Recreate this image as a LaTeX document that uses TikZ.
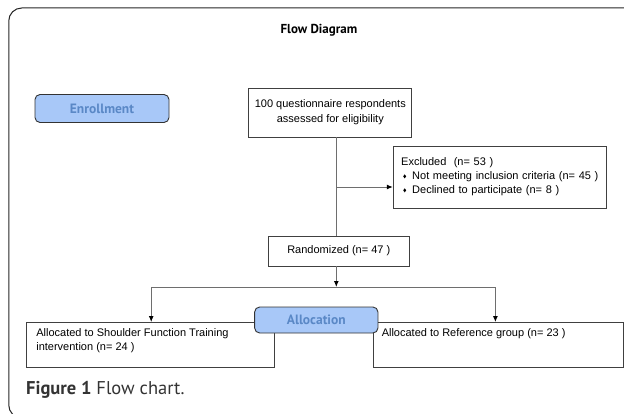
\documentclass[tikz,border=0pt]{standalone}
\usepackage{fontspec}
\setmainfont{Liberation Sans}
\newfontfamily\labelfont{PT Sans}
\usetikzlibrary{arrows.meta}
\definecolor{tagblue}{RGB}{168,200,248}
\definecolor{tagtext}{RGB}{90,136,198}
\definecolor{linegray}{RGB}{110,110,110}
\newcommand{\bulletmark}{\tikz[baseline=-0.6ex]\fill (0pt,0pt) -- (1.5pt,2pt) -- (3pt,0pt) -- (1.5pt,-2pt) -- cycle;}
\begin{document}
\begin{tikzpicture}[x=1pt,y=-1pt,
  flowbox/.style={draw=black!75, fill=white, line width=0.9pt, inner sep=0pt, align=center, font=\fontsize{11}{15}\selectfont},
  tagbox/.style={draw=black!80, fill=tagblue, rounded corners=5pt, line width=0.9pt, text=tagtext, font=\labelfont\bfseries\fontsize{13.5}{15}\selectfont},
  flowline/.style={draw=linegray, line width=0.9pt},
  flowarrow/.style={flowline, -{Latex[length=6pt,width=5pt,color=black]}}]
\useasboundingbox (0,0) rectangle (624,414);
% outer frame
\draw[black!85, line width=1pt, rounded corners=13pt] (60,418) -- (8.75,418) -- (8.75,8) -- (640,8);
% title and stage tags
\node[font=\labelfont\bfseries\fontsize{13}{15}\selectfont] (title) at (319,30) {Flow Diagram};
\node[tagbox, minimum width=134pt, minimum height=28pt] (enroll) at (102,108.5) {Enrollment};
% boxes
\node[flowbox, minimum width=163pt, minimum height=49pt] (screen) at (330.3,112.5) {100 questionnaire respondents\\assessed for eligibility};
\node[flowbox, minimum width=213.6pt, minimum height=62pt, align=left, text width=197.6pt, font=\fontsize{11}{14}\selectfont] (excl) at (500,177) {Excluded\ \ (n= 53 )\\
  \hspace*{2pt}\bulletmark\hspace{6pt}Not meeting inclusion criteria (n= 45 )\\
  \hspace*{2pt}\bulletmark\hspace{6pt}Declined to participate (n= 8 )};
\node[flowbox, minimum width=140.5pt, minimum height=30pt] (rand) at (338.8,251) {Randomized (n= 47 )};
\node[flowbox, inner xsep=10pt, inner ysep=6pt, anchor=north west, font=\fontsize{11}{14}\selectfont] (armsft) at (25.9,322)
  {\parbox[c][33pt][t]{227.9pt}{\raggedright Allocated to Shoulder Function Training\\intervention (n= 24 )}};
\node[flowbox, inner xsep=8pt, inner ysep=6pt, anchor=north west, font=\fontsize{11}{14}\selectfont] (armref) at (373.3,322)
  {\parbox[c][33pt][t]{233.5pt}{\raggedright Allocated to Reference group (n= 23 )}};
% connectors
\coordinate (trunk) at (336.3,0);
\coordinate (xsplit) at (336.3,187);
\coordinate (lsplit) at (151.2,287);
\coordinate (rsplit) at (495.4,287);
\draw[flowline] (screen.south -| trunk) -- (rand.north -| trunk);
\draw[flowarrow] (xsplit) -- (xsplit -| excl.west);
\draw[flowarrow] (rand.south -| trunk) -- (trunk |- lsplit);
\draw[flowline] (lsplit) -- (rsplit);
\draw[flowarrow] (lsplit) -- (lsplit |- armsft.north);
\draw[flowarrow] (rsplit) -- (rsplit |- armref.north);
\node[tagbox, minimum width=123.3pt, minimum height=26pt] (alloc) at (316.3,320) {Allocation};
% caption
\node[anchor=base west, inner sep=0pt, text=black!80, font=\labelfont\fontsize{18.5}{20}\selectfont] (caption) at (26,394) {\textbf{Figure 1} Flow chart.};
\end{tikzpicture}
\end{document}
